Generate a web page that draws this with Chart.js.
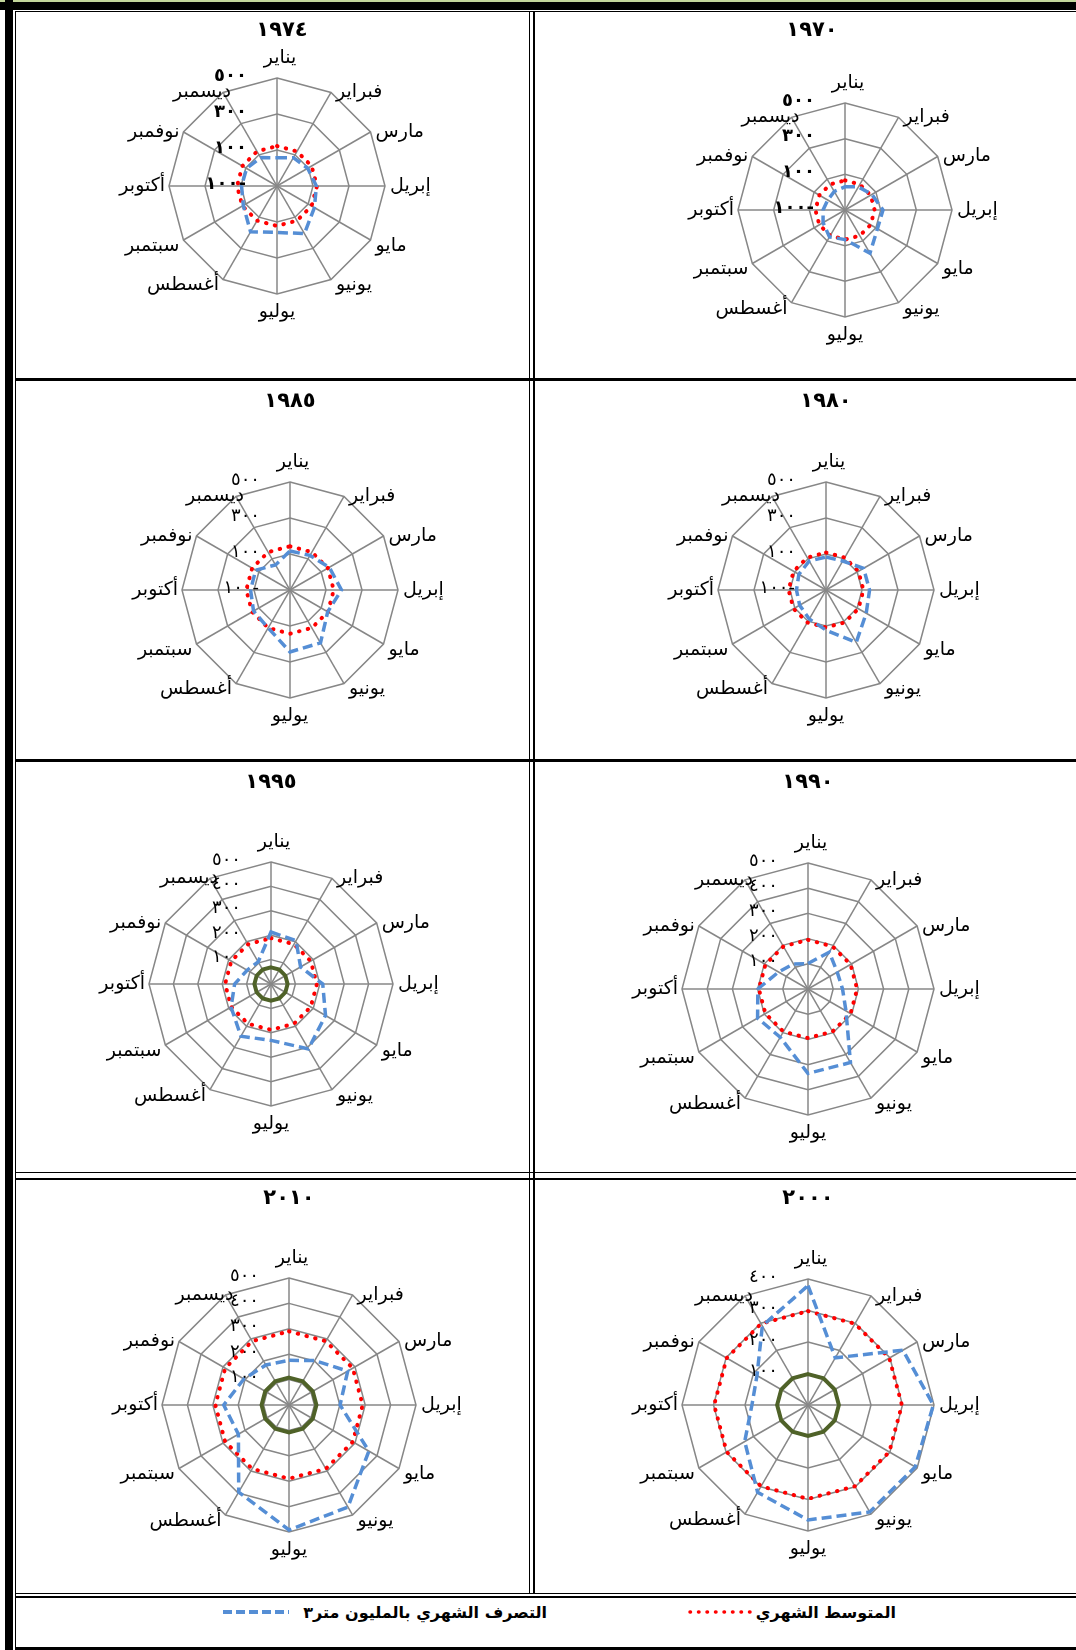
<!DOCTYPE html>
<html>
<head>
<meta charset="utf-8">
<script src="https://cdn.jsdelivr.net/npm/chart.js@4.4.0/dist/chart.umd.min.js"></script>
<style>
  html, body { margin: 0; padding: 0; background: #fff; }
  body { width: 1076px; height: 1650px; position: relative; overflow: hidden; font-family: 'DejaVu Sans', sans-serif; }
  .ln { position: absolute; background: #000; }
  canvas { position: absolute; }
  .title { position: absolute; transform: translate(-50%, -50%); font-weight: bold; font-size: 21px; letter-spacing: 7px; white-space: nowrap; direction: ltr; }
  .leg { position: absolute; font-size: 16px; font-weight: bold; white-space: nowrap; direction: rtl; transform: translateY(-50%); }
  svg { position: absolute; }
</style>
</head>
<body>
<div class="ln" style="left:0;top:0;width:1076px;height:2px;background:#c3d69b"></div>
<div class="ln" style="left:0;top:2px;width:1076px;height:8px"></div>
<div class="ln" style="left:15px;top:11px;width:1061px;height:1px"></div>
<div class="ln" style="left:5px;top:0;width:8px;height:1650px"></div>
<div class="ln" style="left:15px;top:11px;width:1px;height:1639px"></div>
<div class="ln" style="left:529px;top:11px;width:1px;height:1583px"></div>
<div class="ln" style="left:533px;top:11px;width:2px;height:1583px"></div>
<div class="ln" style="left:15px;top:378px;width:1061px;height:3px"></div>
<div class="ln" style="left:15px;top:759px;width:1061px;height:3px"></div>
<div class="ln" style="left:15px;top:1172px;width:1061px;height:1px"></div>
<div class="ln" style="left:15px;top:1178px;width:1061px;height:2px"></div>
<div class="ln" style="left:15px;top:1593px;width:1061px;height:1px"></div>
<div class="ln" style="left:15px;top:1596px;width:1061px;height:2px"></div>
<div class="ln" style="left:15px;top:1647px;width:1061px;height:3px"></div>

<svg style="left:0;top:1600px" width="1076" height="30">
  <line x1="223" y1="12" x2="289" y2="12" stroke="#558ED5" stroke-width="4" stroke-dasharray="9 4"/>
  <line x1="690" y1="12" x2="750" y2="12" stroke="#FF0000" stroke-width="3.5" stroke-dasharray="0.5 8" stroke-linecap="round"/>
</svg>
<div class="leg" style="right:529px;top:1612px">التصرف الشهري بالمليون متر٣</div>
<div class="leg" style="right:180px;top:1612px">المتوسط الشهري</div>

<script>
const months = ['يناير', 'فبراير', 'مارس', 'إبريل', 'مايو', 'يونيو', 'يوليو', 'أغسطس', 'سبتمبر', 'أكتوبر', 'نوفمبر', 'ديسمبر'];

// monthly discharge (million m3)
const flow1970 = [30, 50, 74, 113, 110, 180, 66, 74, 42, 23, 12, 20];
const flow1974 = [57, 82, 97, 119, 140, 205, 158, 194, 116, 97, 95, 82];
const flow1980 = [83, 86, 141, 142, 158, 236, 123, 86, 69, 64, 74, 86];
const flow1985 = [117, 122, 152, 186, 142, 239, 244, 143, 134, 119, 120, 61];
const flow1990 = [101, 169, 134, 137, 174, 337, 335, 221, 231, 199, 135, 115];
const flow1995 = [213, 205, 140, 212, 258, 307, 231, 247, 189, 149, 113, 105];
const flow2000 = [379, 173, 348, 398, 393, 392, 365, 320, 232, 178, 187, 290];
const flow2010 = [176, 202, 267, 201, 363, 464, 492, 396, 230, 257, 205, 182];

// monthly average
const avg1970 = [66, 66, 66, 66, 66, 66, 66, 66, 66, 66, 66, 66];
const avg1974 = [122, 122, 122, 122, 122, 122, 122, 122, 122, 122, 122, 122];
const avg1980 = [108, 108, 108, 108, 108, 108, 108, 108, 108, 108, 108, 108];
const avg1985 = [143, 143, 143, 143, 143, 143, 143, 143, 143, 143, 143, 143];
const avg1990 = [195, 195, 195, 195, 195, 195, 195, 195, 195, 195, 195, 195];
const avg1995 = [188, 188, 188, 188, 188, 188, 188, 188, 188, 188, 188, 188];
const avg2000 = [298, 298, 298, 298, 298, 298, 298, 298, 298, 298, 298, 298];
const avg2010 = [290, 290, 290, 290, 290, 290, 290, 290, 290, 290, 290, 290];

// inner green ring
const base1995 = [68, 68, 68, 68, 68, 68, 68, 68, 68, 68, 68, 68];
const base2000 = [98, 98, 98, 98, 98, 98, 98, 98, 98, 98, 98, 98];
const base2010 = [108, 108, 108, 108, 108, 108, 108, 108, 108, 108, 108, 108];

// value axis ranges
const axisLow = { min: -100, max: 500, step: 200 };
const axis500 = { min: 0, max: 500, step: 100 };
const axis400 = { min: 0, max: 400, step: 100 };

const panels = [
  { title: '١٩٧٤', flow: flow1974, avg: avg1974, base: null, axis: axisLow, x: 16, y: 13, w: 513, h: 365, cx: 277, cy: 186, r: 108, tx: 282, ty: 29, bold: true },
  { title: '١٩٧٠', flow: flow1970, avg: avg1970, base: null, axis: axisLow, x: 535, y: 13, w: 541, h: 365, cx: 845, cy: 210, r: 107, tx: 812, ty: 29, bold: true },
  { title: '١٩٨٥', flow: flow1985, avg: avg1985, base: null, axis: axisLow, x: 16, y: 381, w: 513, h: 378, cx: 290, cy: 590, r: 108, tx: 290, ty: 400, bold: false },
  { title: '١٩٨٠', flow: flow1980, avg: avg1980, base: null, axis: axisLow, x: 535, y: 381, w: 541, h: 378, cx: 826, cy: 590, r: 108, tx: 826, ty: 400, bold: false },
  { title: '١٩٩٥', flow: flow1995, avg: avg1995, base: base1995, axis: axis500, x: 16, y: 762, w: 513, h: 410, cx: 271, cy: 984, r: 122, tx: 271, ty: 781, bold: false },
  { title: '١٩٩٠', flow: flow1990, avg: avg1990, base: null, axis: axis500, x: 535, y: 762, w: 541, h: 410, cx: 808, cy: 989, r: 126, tx: 808, ty: 781, bold: false },
  { title: '٢٠١٠', flow: flow2010, avg: avg2010, base: base2010, axis: axis500, x: 16, y: 1180, w: 513, h: 413, cx: 289, cy: 1405, r: 127, tx: 289, ty: 1197, bold: false },
  { title: '٢٠٠٠', flow: flow2000, avg: avg2000, base: base2000, axis: axis400, x: 535, y: 1180, w: 541, h: 413, cx: 808, cy: 1405, r: 126, tx: 808, ty: 1197, bold: false }
];

const indic = '٠١٢٣٤٥٦٧٨٩';
function arabicNum(v) {
  const s = String(Math.abs(v)).replace(/\d/g, d => indic[d]);
  return v < 0 ? s + '-' : s;
}

const radarText = {
  id: 'radarText',
  beforeDatasetsDraw(chart, args, opts) {
    const s = chart.scales.r;
    const ctx = chart.ctx;
    ctx.save();
    ctx.fillStyle = '#000';
    ctx.font = '19px "DejaVu Sans"';
    chart.data.labels.forEach((lab, i) => {
      const p = s.getPointPosition(i, s.drawingArea);
      const a = i * 30;
      let x = p.x, y = p.y;
      if (a === 0) {
        ctx.textAlign = 'center'; ctx.textBaseline = 'bottom'; y -= 10; x += 3;
      } else if (a === 180) {
        ctx.textAlign = 'center'; ctx.textBaseline = 'top'; y += 9;
      } else {
        ctx.textAlign = a < 180 ? 'left' : 'right';
        ctx.textBaseline = 'middle';
        x += a < 180 ? 5 : -4;
        if (a === 330) x += 12;
        if (a > 90 && a < 270) y += 6;
      }
      ctx.fillText(lab, x, y);
    });
    ctx.font = (opts.bold ? 'bold ' : '') + '18px "DejaVu Sans"';
    ctx.textAlign = 'right';
    ctx.textBaseline = 'middle';
    ctx.letterSpacing = '1px';
    s.ticks.forEach(t => {
      if (t.value === 0) return;
      const d = s.getDistanceFromCenterForValue(t.value);
      ctx.fillText(arabicNum(t.value), s.xCenter - 30, s.yCenter - d - 2);
    });
    ctx.restore();
  }
};

panels.forEach(p => {
  const cv = document.createElement('canvas');
  cv.width = p.w; cv.height = p.h;
  cv.style.left = p.x + 'px'; cv.style.top = p.y + 'px';
  document.body.appendChild(cv);

  const t = document.createElement('div');
  t.className = 'title';
  t.textContent = p.title;
  t.style.left = p.tx + 'px'; t.style.top = p.ty + 'px';
  document.body.appendChild(t);

  const datasets = [
    { label: 'التصرف الشهري بالمليون متر٣', data: p.flow, borderColor: '#558ED5', borderWidth: 3.5, borderDash: [10, 5], fill: false, pointRadius: 0 },
    { label: 'المتوسط الشهري', data: p.avg, borderColor: '#FF0000', borderWidth: 4, borderDash: [0.5, 8.5], borderCapStyle: 'round', fill: false, pointRadius: 0 }
  ];
  if (p.base) {
    datasets.push({ label: 'base', data: p.base, borderColor: '#4F6228', borderWidth: 4, fill: false, pointRadius: 0 });
  }

  new Chart(cv, {
    type: 'radar',
    data: { labels: months, datasets: datasets },
    options: {
      responsive: false,
      animation: false,
      plugins: { legend: { display: false }, tooltip: { enabled: false }, radarText: { bold: p.bold } },
      elements: { line: { tension: 0 } },
      scales: {
        r: {
          min: p.axis.min,
          max: p.axis.max,
          ticks: { display: false, stepSize: p.axis.step },
          grid: { color: '#878787', lineWidth: 1.5 },
          angleLines: { color: '#878787', lineWidth: 1.5 },
          pointLabels: { display: false },
          afterFit: (s) => {
            s.xCenter = p.cx - p.x;
            s.yCenter = p.cy - p.y;
            s.drawingArea = p.r;
          }
        }
      }
    },
    plugins: [radarText]
  });
});
</script>
</body>
</html>
